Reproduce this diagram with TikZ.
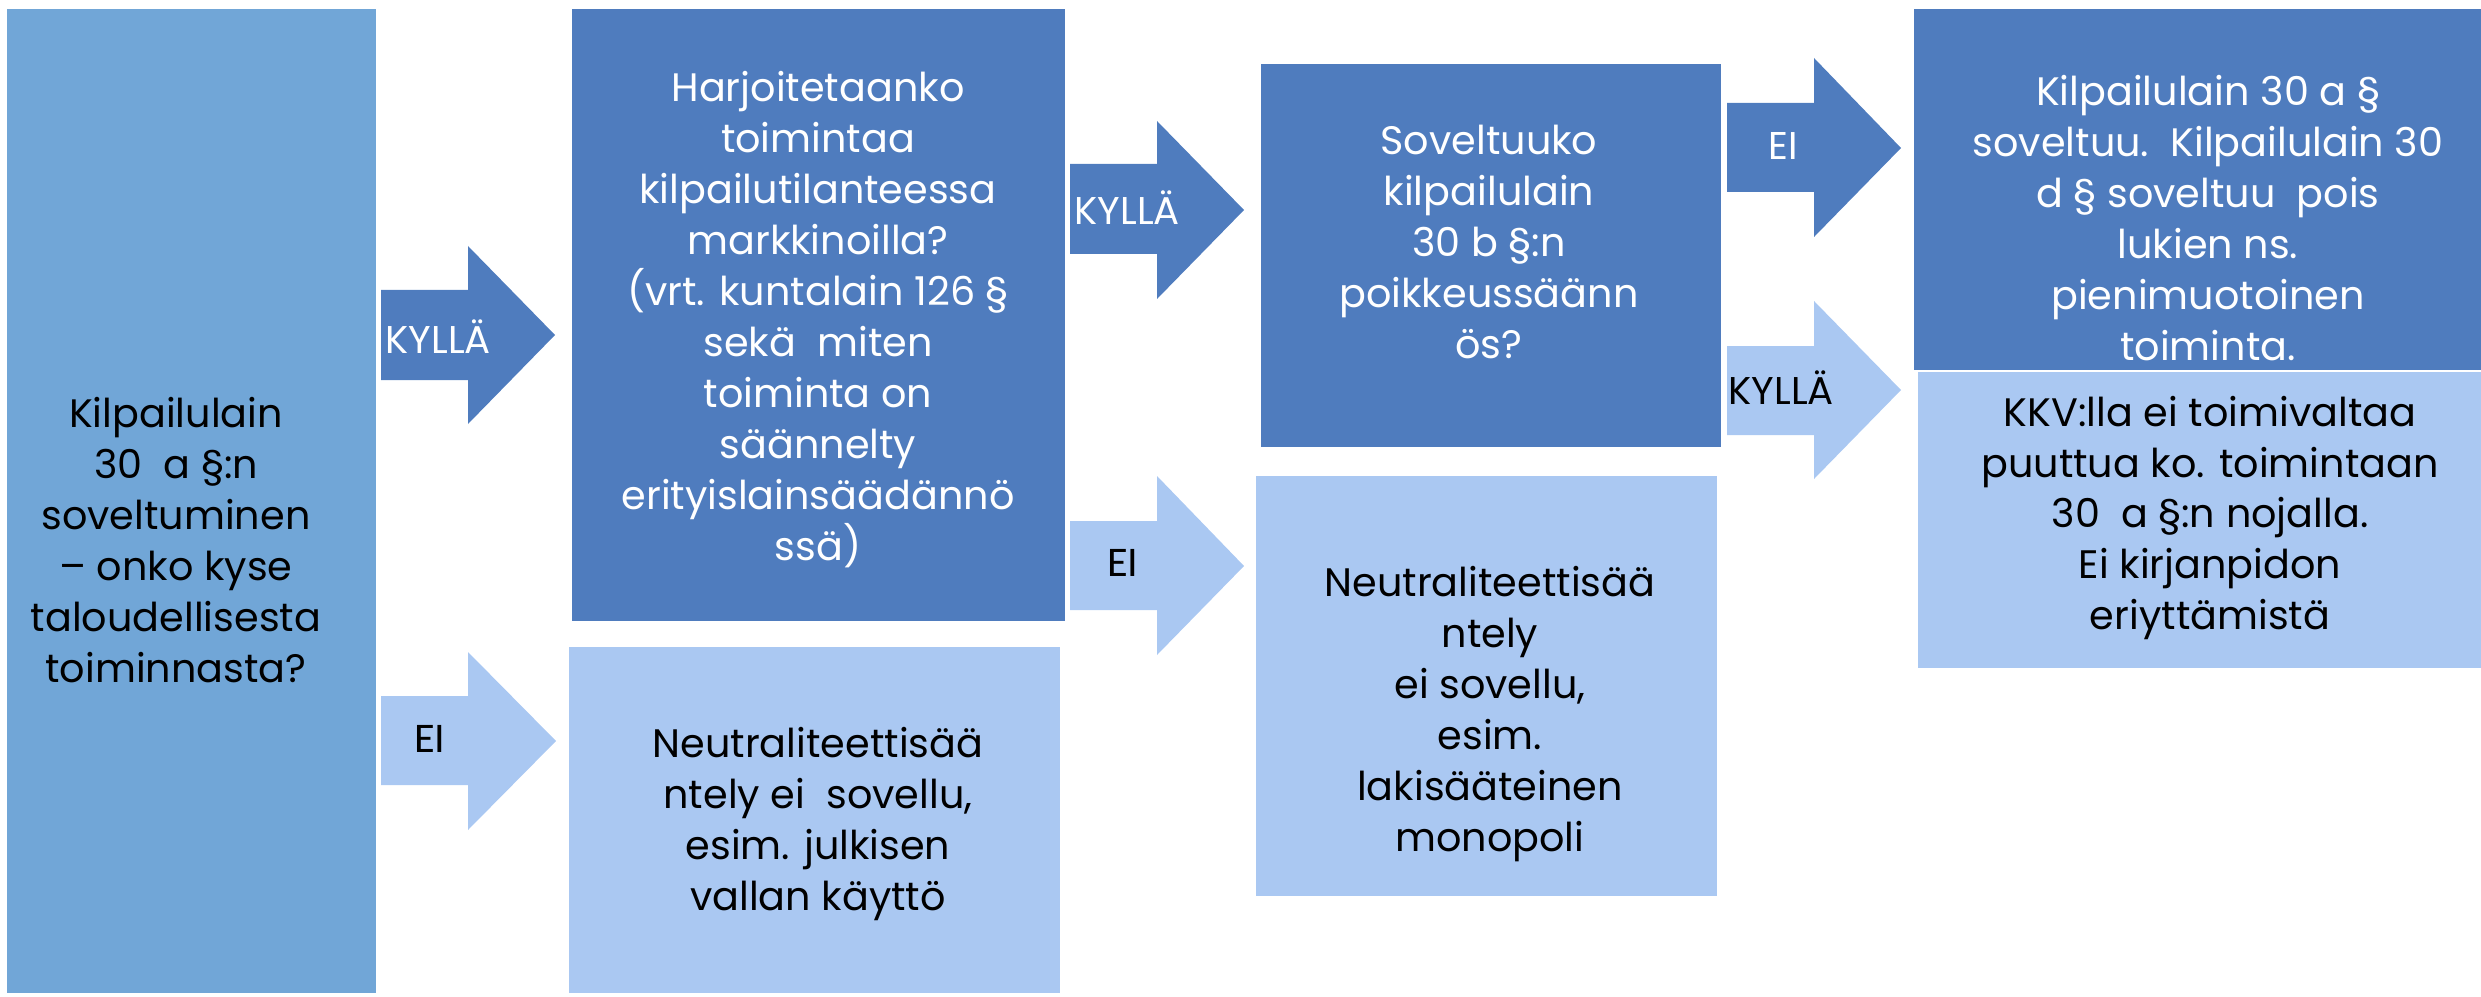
\documentclass[tikz,border=0pt]{standalone}
\usepackage{fontspec}
\setmainfont{Poppins}
\newfontfamily\calfont{Carlito}
\definecolor{dk}{RGB}{79,124,190}
\definecolor{lt}{RGB}{170,200,242}
\definecolor{md}{RGB}{113,166,215}
\tikzset{
  txt/.style={align=center, inner sep=0pt, font=\fontsize{11.3}{14.5}\selectfont},
  wtxt/.style={txt, text=white},
  btxt/.style={txt, text=black},
  lbl/.style={anchor=west, inner sep=0pt, font=\fontsize{11}{13}\selectfont},
  ellbl/.style={inner sep=0pt, font=\calfont\fontsize{12}{14}\selectfont},
}
\begin{document}
\begin{tikzpicture}[x=0.01cm,y=-0.01cm]
\useasboundingbox (0,0) rectangle (2481,997);
% boxes
\fill[md] (7,9) rectangle (376,993);
\fill[dk] (572,9) rectangle (1065,621);
\fill[lt] (569,647) rectangle (1060,993);
\fill[dk] (1261,64) rectangle (1721,447);
\fill[lt] (1256,476) rectangle (1717,896);
\fill[dk] (1914,9) rectangle (2481,370);
\fill[lt] (1918,372) rectangle (2481,668);
% block arrows
\fill[dk] (381,290)--(468,290)--(468,246)--(555,335)--(468,424)--(468,380)--(381,380)--cycle;
\fill[lt] (381,696)--(468,696)--(468,652)--(556,741)--(468,830)--(468,785)--(381,785)--cycle;
\fill[dk] (1070,164)--(1157,164)--(1157,121)--(1244,210)--(1157,299)--(1157,254)--(1070,254)--cycle;
\fill[lt] (1070,521)--(1157,521)--(1157,476)--(1244,566)--(1157,655)--(1157,610)--(1070,610)--cycle;
\fill[dk] (1727,103)--(1814,103)--(1814,58)--(1901,148)--(1814,237)--(1814,192)--(1727,192)--cycle;
\fill[lt] (1727,346)--(1814,346)--(1814,301)--(1901,390)--(1814,479)--(1814,435)--(1727,435)--cycle;
% texts
\node[btxt] (t1) at (176,540) {Kilpailulain\\30\ \ a §:n\\soveltuminen\\– onko kyse\\taloudellisesta\\toiminnasta?};
\node[wtxt] (t2) at (818,320) {Harjoitetaanko\\toimintaa\\kilpailutilanteessa\\markkinoilla?\\(vrt. kuntalain 126 §\\sekä\ \ miten\\toiminta on\\säännelty\\erityislainsäädännö\\ssä)};
\node[btxt] (t3) at (818,824) {Neutraliteettisää\\ntely ei\ \ sovellu,\\esim. julkisen\\vallan käyttö};
\node[wtxt] (t4) at (1489,242) {Soveltuuko\\kilpailulain\\30 b §:n\\poikkeussäänn\\ös?};
\node[btxt] (t5) at (1490,714) {Neutraliteettisää\\ntely\\ei sovellu,\\esim.\\lakisääteinen\\monopoli};
\node[wtxt] (t6) at (2208,218) {Kilpailulain 30 a §\\soveltuu.\ \ Kilpailulain 30\\d § soveltuu\ \ pois\\lukien ns.\\pienimuotoinen\\toiminta.};
\node[btxt] (t7) at (2210,518) {KKV:lla ei toimivaltaa\\puuttua ko. toimintaan\\30\ \ a §:n nojalla.\\Ei kirjanpidon\\eriyttämistä};
% arrow labels
\node[lbl, text=white] (l1) at (385,337) {KYLLÄ};
\node[ellbl, text=black] (l2) at (430,739) {EI};
\node[lbl, text=white] (l3) at (1074,208) {KYLLÄ};
\node[ellbl, text=black] (l4) at (1123,563) {EI};
\node[lbl, text=white, anchor=center] (l5) at (1783,146) {EI};
\node[lbl, text=black] (l6) at (1728,388) {KYLLÄ};
\end{tikzpicture}
\end{document}
